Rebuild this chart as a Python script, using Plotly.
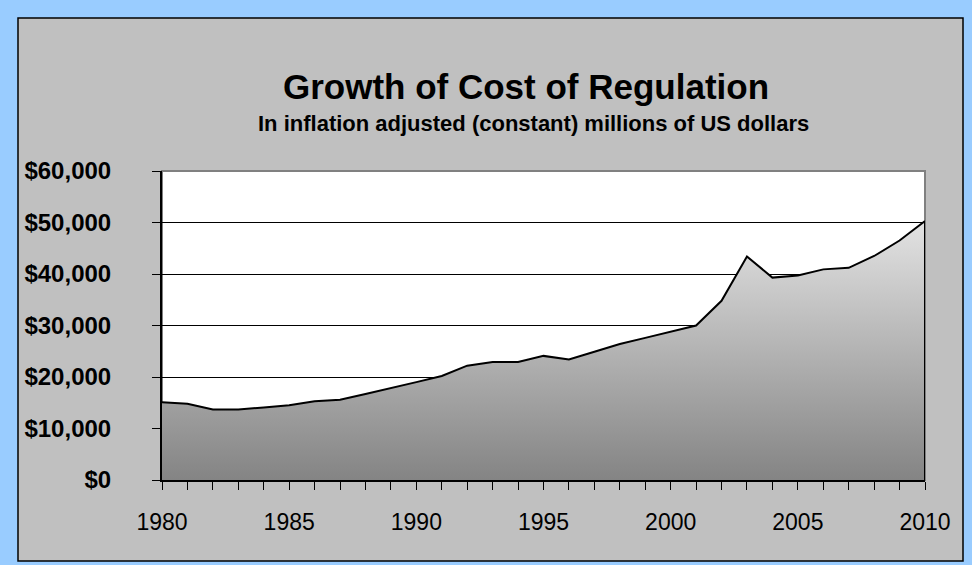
import plotly.graph_objects as go

years = list(range(1980, 2011))
cost = [15100, 14800, 13700, 13700, 14100, 14500, 15300, 15600, 16700, 17800,
        19000, 20200, 22200, 22900, 22900, 24100, 23400, 24900, 26400, 27600,
        28800, 30000, 34800, 43400, 39300, 39700, 40900, 41200, 43500, 46500, 50300]

y_ticks = [0, 10000, 20000, 30000, 40000, 50000, 60000]
y_labels = ["$0", "$10,000", "$20,000", "$30,000", "$40,000", "$50,000", "$60,000"]
x_labels = [str(y) if y % 5 == 0 else "" for y in years]

title = "Growth of Cost of Regulation"
subtitle = "In inflation adjusted (constant) millions of US dollars"

W, H = 972, 565
L, R, T, B = 162, 47, 171, 85
pw, ph = W - L - R, H - T - B

def px(x):
    return (x - L) / pw

def py(y):
    return (H - B - y) / ph

fig = go.Figure()
fig.add_trace(go.Scatter(
    x=years, y=cost, mode="lines", fill="tozeroy",
    line=dict(color="black", width=2),
    fillgradient=dict(type="vertical",
                      colorscale=[[0, "#848484"], [1, "#E2E2E2"]],
                      start=0, stop=50000),
    hoverinfo="x+y", showlegend=False,
))
fig.add_trace(go.Scatter(
    x=[years[-1], years[-1]], y=[0, cost[-1]], mode="lines",
    line=dict(color="black", width=2), showlegend=False, hoverinfo="skip",
))

fig.add_shape(type="rect", xref="paper", yref="paper",
              x0=px(18), x1=px(963), y0=py(561), y1=py(18),
              fillcolor="#C0C0C0", line=dict(color="black", width=1.5), layer="below")
fig.add_shape(type="rect", xref="paper", yref="paper",
              x0=0, x1=1, y0=0, y1=1,
              fillcolor="white", line=dict(color="#808080", width=2), layer="below")

font = "Liberation Sans, Arial, sans-serif"
fig.add_annotation(text=title, xref="paper", yref="paper", x=px(526), y=py(86),
                   showarrow=False, xanchor="center", yanchor="middle",
                   font=dict(family=font, size=35, color="black", weight="bold"))
fig.add_annotation(text=subtitle, xref="paper", yref="paper", x=px(533), y=py(124),
                   showarrow=False, xanchor="center", yanchor="middle",
                   font=dict(family=font, size=22, color="black", weight="bold"))

fig.update_layout(
    width=W, height=H,
    margin=dict(l=L, r=R, t=T, b=B),
    paper_bgcolor="#99CCFF",
    plot_bgcolor="rgba(0,0,0,0)",
    xaxis=dict(range=[1980, 2010], tickvals=years, ticktext=x_labels,
               ticks="outside", ticklen=8, tickcolor="black", tickwidth=1,
               showline=True, linecolor="black", linewidth=2,
               showgrid=False, zeroline=False, ticklabelstandoff=12,
               tickfont=dict(family=font, size=23, color="black")),
    yaxis=dict(range=[0, 60000], tickvals=y_ticks, ticktext=y_labels,
               ticks="outside", ticklen=8, tickcolor="black", tickwidth=1,
               showline=True, linecolor="black", linewidth=2,
               showgrid=True, gridcolor="black", gridwidth=1, zeroline=False,
               ticklabelstandoff=36,
               tickfont=dict(family=font, size=24, color="black", weight="bold")),
)

fig.write_html("out.html")
